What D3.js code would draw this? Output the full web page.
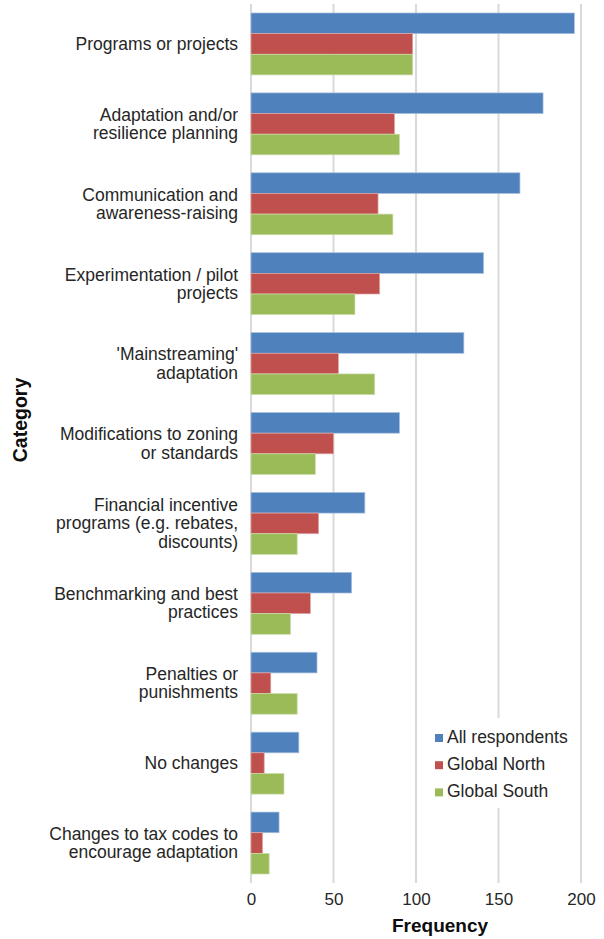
<!DOCTYPE html>
<html>
<head>
<meta charset="utf-8">
<script src="https://cdnjs.cloudflare.com/ajax/libs/d3/7.8.5/d3.min.js"></script>
<style>
  body { margin: 0; background: #fff; }
  svg { display: block; font-family: "Liberation Sans", Arial, sans-serif; }
</style>
</head>
<body>
<svg id="chart" width="604" height="939"></svg>
<script>
// data
var categories = [
  "Programs or projects",
  "Adaptation and/or|resilience planning",
  "Communication and|awareness-raising",
  "Experimentation / pilot|projects",
  "'Mainstreaming'|adaptation",
  "Modifications to zoning|or standards",
  "Financial incentive|programs (e.g. rebates,|discounts)",
  "Benchmarking and best|practices",
  "Penalties or|punishments",
  "No changes",
  "Changes to tax codes to|encourage adaptation"
];
var series = ["All respondents", "Global North", "Global South"];
var allRespondents = [196, 177, 163, 141, 129, 90, 69, 61, 40, 29, 17];
var globalNorth    = [98, 87, 77, 78, 53, 50, 41, 36, 12, 8, 7];
var globalSouth    = [98, 90, 86, 63, 75, 39, 28, 24, 28, 20, 11];
var xTicks = [0, 50, 100, 150, 200];
var colors = ["#4f81bd", "#c0504d", "#9bbb59"];
var strokes = ["#a7bfdf", "#e0a8a6", "#cddcac"];

draw();

function draw() {
  var values = [allRespondents, globalNorth, globalSouth];

  var svg = d3.select("#chart");
  var left = 251, right = 581, plotTop = 4, plotBottom = 883;

  var x = d3.scaleLinear().domain([0, 200]).range([left, right]);
  var y = d3.scaleBand().domain(d3.range(categories.length)).range([plotTop, plotBottom])
    .paddingInner(0.225).paddingOuter(0.1125);
  var ys = d3.scaleBand().domain(d3.range(series.length)).range([0, y.bandwidth()]);

  // gridlines
  svg.append("g").selectAll("line").data(xTicks).join("line")
    .attr("x1", d => x(d)).attr("x2", d => x(d))
    .attr("y1", plotTop).attr("y2", plotBottom)
    .attr("stroke", "#d9d9d9").attr("stroke-width", 2);

  // bars
  var groups = svg.append("g").selectAll("g").data(categories).join("g")
    .attr("transform", (d, i) => "translate(0," + y(i) + ")");
  groups.selectAll("rect").data((d, i) => values.map((v, s) => ({ s: s, v: v[i] }))).join("rect")
    .attr("x", x(0))
    .attr("y", d => ys(d.s))
    .attr("width", d => x(d.v) - x(0))
    .attr("height", ys.bandwidth())
    .attr("fill", d => colors[d.s])
    .attr("stroke", d => strokes[d.s])
    .attr("stroke-width", 0.7);

  // category labels
  var lineH = 18.3;
  categories.forEach(function (c, i) {
    var lines = c.split("|");
    var cy = y(i) + y.bandwidth() / 2;
    var t = svg.append("text")
      .attr("text-anchor", "end")
      .attr("font-size", 17.5)
      .attr("fill", "#262626");
    lines.forEach(function (l, k) {
      t.append("tspan")
        .attr("x", 238)
        .attr("y", cy + (k - (lines.length - 1) / 2) * lineH + 6)
        .text(l);
    });
  });

  // x tick labels
  var xAxis = d3.axisBottom(x).tickValues(xTicks).tickSize(0).tickPadding(0);
  var ax = svg.append("g").attr("transform", "translate(0," + (plotBottom + 10) + ")").call(xAxis);
  ax.select(".domain").remove();
  ax.selectAll("text").attr("font-size", 17).attr("fill", "#262626")
    .attr("font-family", "Liberation Sans, Arial, sans-serif");

  // axis titles
  svg.append("text").attr("x", (left + right) / 2 + 24).attr("y", 932)
    .attr("text-anchor", "middle").attr("font-weight", "bold").attr("font-size", 19)
    .attr("fill", "#0d0d0d").text("Frequency");
  svg.append("text").attr("transform", "translate(27,420) rotate(-90)")
    .attr("text-anchor", "middle").attr("font-weight", "bold").attr("font-size", 19.5)
    .attr("fill", "#0d0d0d").text("Category");

  // legend
  var lg = svg.append("g");
  lg.append("rect").attr("x", 428).attr("y", 718).attr("width", 150).attr("height", 90).attr("fill", "#fff");
  series.forEach(function (s, i) {
    var ly = 737 + i * 27.2;
    lg.append("rect").attr("x", 435).attr("y", ly - 3).attr("width", 8).attr("height", 8).attr("fill", colors[i]);
    lg.append("text").attr("x", 447).attr("y", ly + 6).attr("font-size", 17.5).attr("fill", "#262626").text(s);
  });
}
</script>
</body>
</html>
